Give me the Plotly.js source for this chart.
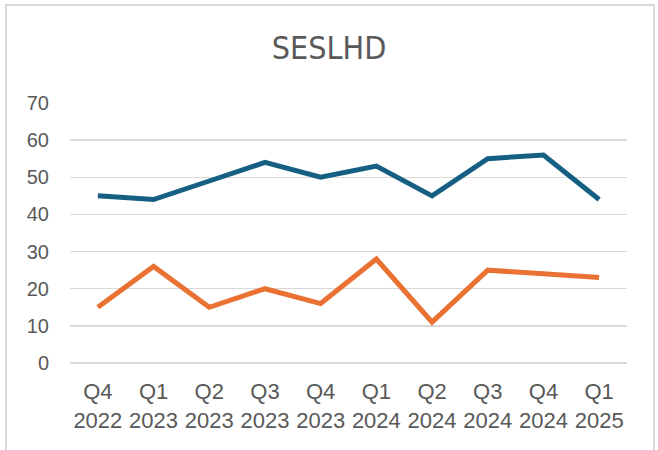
<!DOCTYPE html>
<html>
<head>
<meta charset="utf-8">
<script src="https://cdn.plot.ly/plotly-3.0.1.min.js"></script>
<style>
  html, body { margin: 0; padding: 0; background: #fff; }
  #wrap { position: relative; width: 658px; height: 450px; overflow: hidden; }
  #chart { width: 658px; height: 450px; }
  #frame { position: absolute; left: 5px; top: 4px; width: 646px; height: 470px;
           border: 2px solid #d9d9d9; pointer-events: none; }
</style>
</head>
<body>
<div id="wrap">
  <div id="chart"></div>
  <div id="frame"></div>
</div>
<script>
const categories = ["Q4<br>2022", "Q1<br>2023", "Q2<br>2023", "Q3<br>2023", "Q4<br>2023",
                    "Q1<br>2024", "Q2<br>2024", "Q3<br>2024", "Q4<br>2024", "Q1<br>2025"];
const seriesBlue = [45, 44, 49, 54, 50, 53, 45, 55, 56, 44];
const seriesOrange = [15, 26, 15, 20, 16, 28, 11, 25, 24, 23];
const yTicks = [0, 10, 20, 30, 40, 50, 60, 70];

const traces = [
  { x: categories, y: seriesBlue, type: "scatter", mode: "lines", name: "Series 1",
    line: { color: "#156082", width: 5 } },
  { x: categories, y: seriesOrange, type: "scatter", mode: "lines", name: "Series 2",
    line: { color: "#E97132", width: 5 } }
];

const layout = {
  width: 658, height: 450,
  margin: { l: 70, r: 31, t: 103, b: 87 },
  paper_bgcolor: "#ffffff", plot_bgcolor: "#ffffff",
  showlegend: false,
  hovermode: false,
  title: { text: "SESLHD", x: 0.5, xanchor: "center", y: 0.893, yanchor: "middle",
           font: { family: "DejaVu Sans Condensed, Liberation Sans Narrow, sans-serif", size: 32, color: "#595959" } },
  xaxis: { type: "category", range: [-0.5, 9.5], showgrid: false, zeroline: false,
           showline: false, ticks: "", ticklabelstandoff: 13,
           tickfont: { family: "Liberation Sans, sans-serif", size: 22, color: "#595959" } },
  yaxis: { range: [0, 70], tickvals: yTicks, showgrid: true, gridcolor: "#d9d9d9", gridwidth: 1.5,
           zeroline: true, zerolinecolor: "#d9d9d9", zerolinewidth: 1.5, showline: false, ticks: "",
           ticklabelstandoff: 20,
           tickfont: { family: "Liberation Sans, sans-serif", size: 20, color: "#595959" } }
};

Plotly.newPlot("chart", traces, layout, { displayModeBar: false, staticPlot: true });
</script>
</body>
</html>
